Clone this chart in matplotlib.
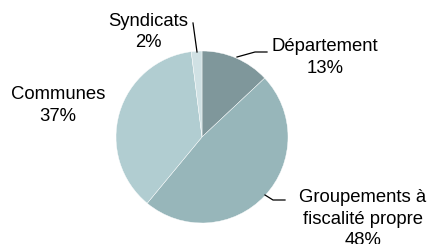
import matplotlib
matplotlib.use("Agg")
import matplotlib.pyplot as plt

categories = ["Département", "Groupements à\nfiscalité propre", "Communes", "Syndicats"]
values = [13, 48, 37, 2]
colors = ["#7f979b", "#97b6ba", "#b1cdd1", "#d0e1e4"]

plt.rcParams['font.family'] = ['Liberation Sans', 'DejaVu Sans']

W, H = 429, 244
fig = plt.figure(figsize=(W / 100, H / 100), dpi=100)
ax = fig.add_axes([0, 0, 1, 1])

cx, cy, r = 202, H - 137, 86
ax.pie(values, colors=colors, startangle=90, counterclock=False,
       center=(cx, cy), radius=r, frame=True,
       wedgeprops=dict(edgecolor='white', linewidth=0.3))
ax.set_xlim(0, W)
ax.set_ylim(0, H)
ax.set_aspect('equal')
ax.axis('off')

fs = 13.3
ls = 1.33
lab = [f"{c}\n{v}%" for c, v in zip(categories, values)]
# Département
ax.text(325, H - 57.5, lab[0], ha='center', va='center', fontsize=fs, linespacing=ls)
ax.plot([237, 255, 267], [H - 57, H - 52, H - 52], color='black', lw=0.9)
# Groupements
ax.text(363, H - 219, lab[1], ha='center', va='center', fontsize=fs, linespacing=ls)
ax.plot([265, 273, 285], [H - 195, H - 200, H - 200], color='black', lw=0.9)
# Communes
ax.text(58, H - 105.5, lab[2], ha='center', va='center', fontsize=fs, linespacing=ls)
# Syndicats
ax.text(148, H - 32, lab[3], ha='center', va='center', fontsize=fs, linespacing=ls)
ax.plot([193, 197], [H - 23, H - 52], color='black', lw=0.9)

fig.savefig("out.png", dpi=100)
